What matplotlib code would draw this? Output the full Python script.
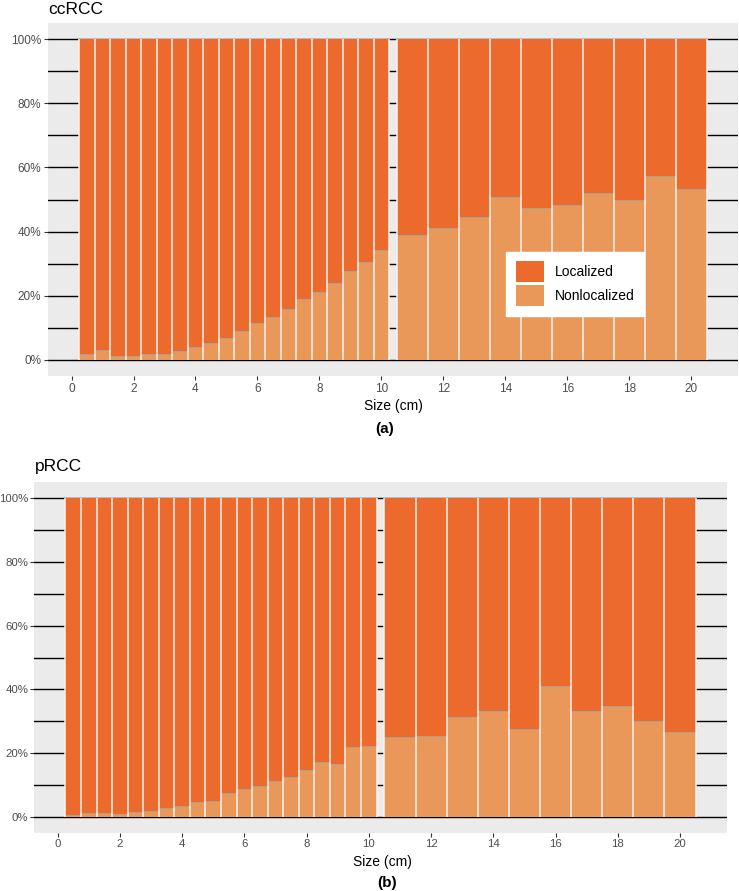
import matplotlib
matplotlib.use("Agg")
import matplotlib.pyplot as plt
import numpy as np
from matplotlib.patches import Patch

plt.rcParams["font.family"] = ["Liberation Sans", "DejaVu Sans"]

# bin centres (cm) and widths
small_sizes = [0.5, 1.0, 1.5, 2.0, 2.5, 3.0, 3.5, 4.0, 4.5, 5.0,
               5.5, 6.0, 6.5, 7.0, 7.5, 8.0, 8.5, 9.0, 9.5, 10.0]
large_sizes = [11, 12, 13, 14, 15, 16, 17, 18, 19, 20]

# share of nonlocalized tumours (%) per bin
cc_small = [1.9, 3.1, 1.25, 1.25, 1.7, 1.9, 2.8, 4.0, 5.2, 6.7,
            8.9, 11.6, 13.4, 15.8, 19.0, 21.3, 24.1, 27.7, 30.4, 34.3]
cc_large = [38.8, 41.0, 44.4, 50.7, 47.4, 48.3, 52.0, 49.9, 57.3, 53.3]
p_small = [0.7, 1.25, 1.15, 0.8, 1.6, 1.9, 2.7, 3.4, 4.7, 5.0,
           7.5, 8.8, 9.6, 11.2, 12.4, 14.6, 17.4, 16.7, 21.9, 22.3]
p_large = [25.2, 25.5, 31.3, 33.1, 27.7, 41.1, 33.1, 34.8, 30.0, 26.7]

COL_LOC = "#EC6A2B"
COL_NON = "#EA9859"
BG = "#EBEBEB"
W, H = 739, 891


def panel(ax, small, large, labelsize=8.5, pad=2):
    x = np.array(small_sizes + large_sizes, dtype=float)
    w = np.array([0.5] * len(small_sizes) + [1.0] * len(large_sizes))
    non = np.array(small + large) / 100.0
    loc = 1.0 - non
    ax.set_facecolor(BG)
    for y in np.arange(0, 1.01, 0.1):
        ax.axhline(y, color="black", lw=1.0, zorder=0)
    ax.bar(x, non, width=w, color=COL_NON, edgecolor="none", zorder=2)
    ax.bar(x, loc, width=w, bottom=non, color=COL_LOC, edgecolor="none", zorder=2)
    # thin line where the two segments meet
    ax.hlines(non, x - w / 2, x + w / 2, color="#9AA6A0", lw=0.6, zorder=3)
    # light separators between neighbouring bars
    edges = np.unique(np.concatenate([x - w / 2, x + w / 2]))
    ax.vlines(edges, 0, 1, color="#FBF3EC", lw=1.1, zorder=3)
    ax.set_xlim(-0.76, 21.51)
    ax.set_ylim(-0.05, 1.05)
    ax.set_xticks(range(0, 21, 2))
    ax.set_yticks(np.arange(0, 1.01, 0.2))
    ax.set_yticklabels([f"{int(round(v * 100))}%" for v in np.arange(0, 1.01, 0.2)])
    ax.tick_params(colors="#333333", labelcolor="#4D4D4D", labelsize=labelsize,
                   length=3, width=0.8, pad=pad)
    for s in ax.spines.values():
        s.set_visible(False)


def px_axes(fig, left, right, top, bottom):
    return fig.add_axes([left / W, 1 - bottom / H, (right - left) / W, (bottom - top) / H])


fig = plt.figure(figsize=(W / 100, H / 100), dpi=100)

ax1 = px_axes(fig, 48, 738, 23, 376)
panel(ax1, cc_small, cc_large)
ax2 = px_axes(fig, 34, 727, 482, 833)
panel(ax2, p_small, p_large, labelsize=8.2, pad=1.2)

handles = [Patch(facecolor=COL_LOC, edgecolor="none", label="Localized"),
           Patch(facecolor=COL_NON, edgecolor="none", label="Nonlocalized")]
leg = ax1.legend(handles=handles, loc="center", bbox_to_anchor=(0.764, 0.262),
                 frameon=True, fancybox=False, framealpha=1, edgecolor="white",
                 facecolor="white", fontsize=10, handlelength=2.0, handleheight=1.9,
                 labelspacing=0.25, handletextpad=0.8, borderpad=0.7)
leg.set_zorder(5)

fig.text(48 / W, 1 - 14 / H, "ccRCC", fontsize=12.5, va="baseline", ha="left")
fig.text(393 / W, 1 - 406 / H, "Size (cm)", fontsize=10, va="center", ha="center")
fig.text(385 / W, 1 - 429 / H, "(a)", fontsize=11, fontweight="bold", va="center", ha="center")

fig.text(35 / W, 1 - 471 / H, "pRCC", fontsize=12.5, va="baseline", ha="left")
fig.text(382 / W, 1 - 862 / H, "Size (cm)", fontsize=10, va="center", ha="center")
fig.text(387 / W, 1 - 883 / H, "(b)", fontsize=11, fontweight="bold", va="center", ha="center")

fig.savefig("out.png", dpi=100, facecolor="white")
